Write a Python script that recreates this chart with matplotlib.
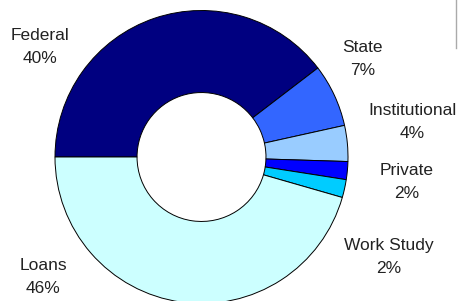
import matplotlib
matplotlib.use("Agg")
import matplotlib.pyplot as plt
from matplotlib.lines import Line2D

# data
sources = ['Federal', 'State', 'Institutional', 'Private', 'Work Study', 'Loans']
shares = [40, 7, 4, 2, 2, 46]
colors = ['#000080', '#3366ff', '#99ccff', '#0000ff', '#00ccff', '#ccffff']

# label centres (data units, pie radius = 1)
label_pos = [(-1.10, 0.75), (1.10, 0.67), (1.44, 0.24),
             (1.40, -0.17), (1.28, -0.68), (-1.08, -0.82)]

W, H = 458, 301
cx, cy, r = 201.5, 157, 146.5   # pixels, from top-left

fig = plt.figure(figsize=(W / 100, H / 100), dpi=100)
ax = fig.add_axes([0, 0, 1, 1])

ax.pie(shares, colors=colors, startangle=180, counterclock=False,
       radius=1, wedgeprops=dict(width=0.56, edgecolor='black', linewidth=0.7))

for name, val, (x, y) in zip(sources, shares, label_pos):
    ax.text(x, y, f"{name}\n{val}%", ha='center', va='center',
            fontsize=12.5, family='Liberation Sans', linespacing=1.65,
            color='#222222')

ax.set_xlim(-cx / r, (W - cx) / r)
ax.set_ylim(-(H - cy) / r, cy / r)
ax.set_aspect('equal')
ax.axis('off')

# bit of a frame line cut off at the top right
fig.add_artist(Line2D([456 / W, 456 / W], [1, 1 - 48 / H],
                      transform=fig.transFigure, color='#aaaaaa', lw=1))

fig.savefig("out.png", dpi=100)
